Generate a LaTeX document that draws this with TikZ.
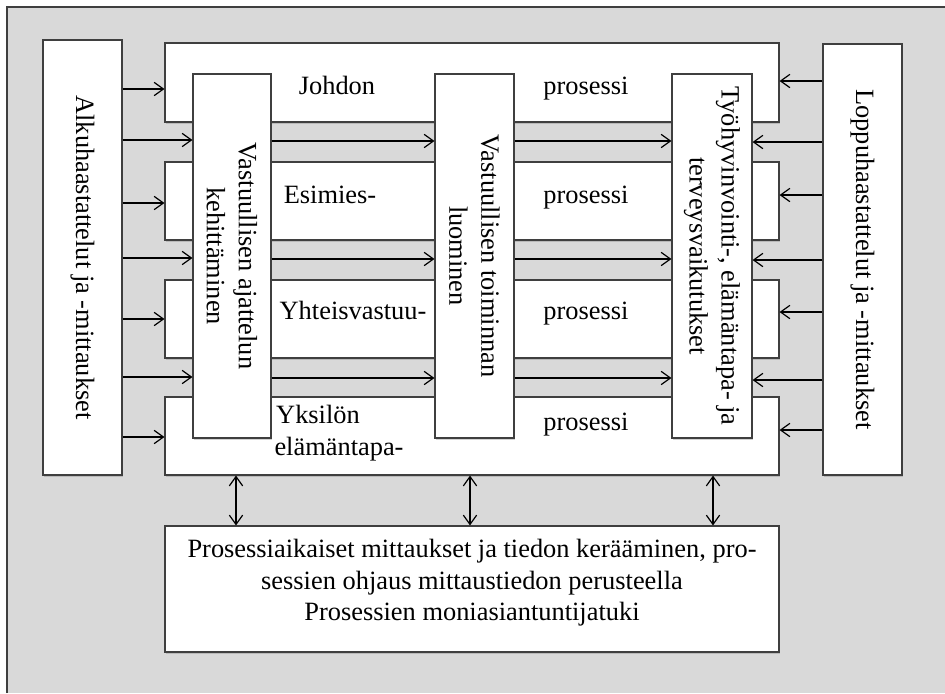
\documentclass[tikz,border=0pt]{standalone}
\usepackage{fontspec}
\setmainfont{Liberation Serif}
\usetikzlibrary{arrows.meta,fit,shadows}
\definecolor{panel}{HTML}{D9D9D9}
\definecolor{edge}{HTML}{3F3F3F}
\begin{document}
\begin{tikzpicture}[x=0.75pt,y=-0.75pt,
  every node/.style={font=\fontsize{19.8}{24}\selectfont},
  box/.style={draw=edge, line width=0.8pt, fill=white, inner sep=0pt,
    drop shadow={shadow xshift=1pt, shadow yshift=-1.2pt, opacity=0.35}},
  arr/.style={draw=black, line width=0.9pt, -{Straight Barb[length=7pt,width=10pt]}},
  dbl/.style={draw=black, line width=0.9pt, {Straight Barb[length=7pt,width=10pt]}-{Straight Barb[length=7pt,width=10pt]}},
  vtext/.style={rotate=-90, align=center, inner sep=0pt},
  lbl/.style={anchor=base, inner sep=0pt}]
\useasboundingbox (0,0) rectangle (945,693);
% panel background with its visible left and top border
\fill[panel] (7,7) rectangle (945,693);
\draw[edge, line width=1.2pt] (7,693) -- (7,7) -- (945,7);

% side boxes
\node[box, fit={(43,40) (122,475)}] (L) {};
\node[box, fit={(823,44) (902,475)}] (R) {};
% process bands
\node[box, fit={(165,43) (779,122)}] (P1) {};
\node[box, fit={(165,162) (779,240)}] (P2) {};
\node[box, fit={(165,280) (779,358)}] (P3) {};
\node[box, fit={(165,397) (779,475)}] (P4) {};
% vertical phase boxes
\node[box, fit={(193,74) (271,438)}] (V1) {};
\node[box, fit={(435,74) (514,438)}] (V2) {};
\node[box, fit={(672,74) (752,438)}] (V3) {};
% bottom support box
\node[box, fit={(165,526) (779,652)}] (B) {};

% texts
\node[vtext] at (L.center) {Alkuhaastattelut ja -mittaukset};
\node[vtext] at (R.center) {Loppuhaastattelut ja -mittaukset};
\node[vtext] at (V1.center) {Vastuullisen ajattelun\\kehittäminen};
\node[vtext] at (V2.center) {Vastuullisen toiminnan\\luominen};
\node[vtext] at (V3.center) {Työhyvinvointi-, elämäntapa- ja\\terveysvaikutukset};

\node[lbl] at (337,94) {Johdon};
\node[lbl] at (330,203) {Esimies-};
\node[lbl] at (353,319) {Yhteisvastuu-};
\node[lbl] at (318,423) {Yksilön};
\node[lbl] at (339,455) {elämäntapa-};
\node[lbl] at (586,94) {prosessi};
\node[lbl] at (586,203) {prosessi};
\node[lbl] at (586,319) {prosessi};
\node[lbl] at (586,430) {prosessi};

\node[lbl] at (472,557) {Prosessiaikaiset mittaukset ja tiedon kerääminen, pro-};
\node[lbl] at (472,589) {sessien ohjaus mittaustiedon perusteella};
\node[lbl] at (472,620) {Prosessien moniasiantuntijatuki};

% inputs from the initial interviews
\draw[arr] (L.east |- 0,89) -- (P1.west |- 0,89);
\draw[arr] (L.east |- 0,140) -- (V1.west |- 0,140);
\draw[arr] (L.east |- 0,203) -- (P2.west |- 0,203);
\draw[arr] (L.east |- 0,258) -- (V1.west |- 0,258);
\draw[arr] (L.east |- 0,319) -- (P3.west |- 0,319);
\draw[arr] (L.east |- 0,377) -- (V1.west |- 0,377);
\draw[arr] (L.east |- 0,437) -- (P4.west |- 0,437);

% flow between the phases
\foreach \y in {141,259,378}{
  \draw[arr] (V1.east |- 0,\y) -- (V2.west |- 0,\y);
  \draw[arr] (V2.east |- 0,\y) -- (V3.west |- 0,\y);
}

% inputs from the final interviews
\draw[arr] (R.west |- 0,81) -- (P1.east |- 0,81);
\draw[arr] (R.west |- 0,142) -- (V3.east |- 0,142);
\draw[arr] (R.west |- 0,195) -- (P2.east |- 0,195);
\draw[arr] (R.west |- 0,260) -- (V3.east |- 0,260);
\draw[arr] (R.west |- 0,312) -- (P3.east |- 0,312);
\draw[arr] (R.west |- 0,380) -- (V3.east |- 0,380);
\draw[arr] (R.west |- 0,430) -- (P4.east |- 0,430);

% exchange with the support box
\foreach \x in {236,470,713}{
  \draw[dbl] (P4.south -| \x,0) -- (B.north -| \x,0);
}
\end{tikzpicture}
\end{document}
